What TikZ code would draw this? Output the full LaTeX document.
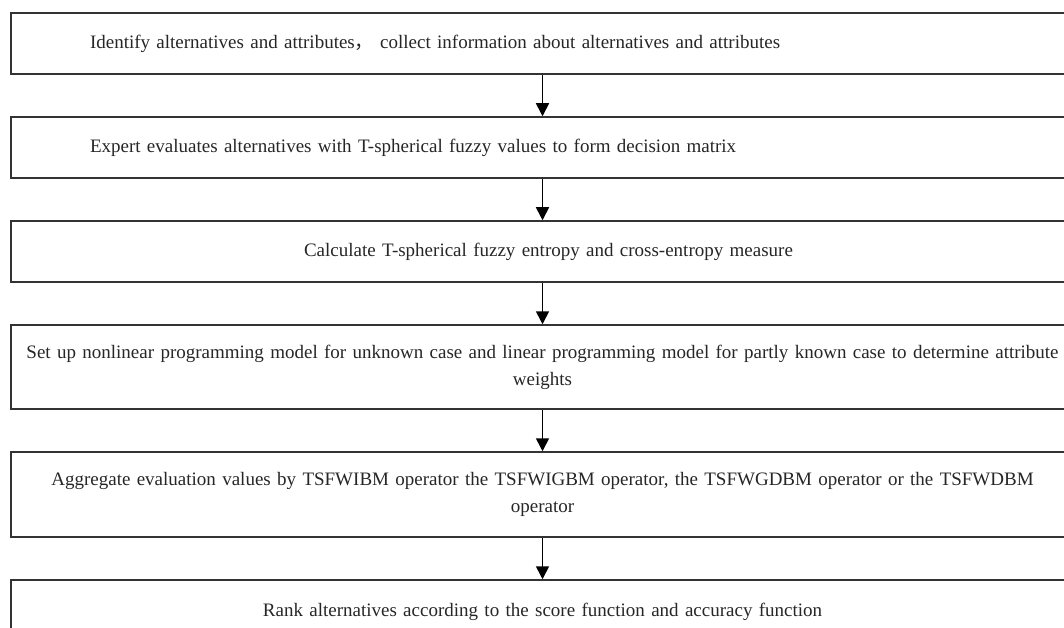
\documentclass[tikz,border=0pt]{standalone}
\usepackage{fontspec}
\setmainfont{Liberation Serif}
\newfontfamily\cjk{Noto Sans CJK SC}
\usetikzlibrary{positioning, arrows.meta}

\tikzset{
    box/.style={draw=black!80, line width=1.5pt, minimum width=1063pt, inner xsep=8pt,
        text width=1047pt, align=center, text=black!85, font=\fontsize{19pt}{27pt}\selectfont},
    flow/.style={draw=black, line width=1.6pt, -{Triangle[width=13pt, length=13pt]}}
}

\begin{document}
\begin{tikzpicture}[node distance=41.5pt]
    \useasboundingbox (0,0) rectangle (1064pt,-628pt);
    \clip (0,0) rectangle (1064pt,-628pt);

    \node[box, minimum height=61pt, inner xsep=79pt, text width=905pt, align=left]
        (step 1) at (542.5pt,-43.5pt) {Identify alternatives and attributes{\cjk ，} collect information about alternatives and attributes};
    \node[box, minimum height=61pt, inner xsep=79pt, text width=905pt, align=left, below=of step 1]
        (step 2) {Expert evaluates alternatives with T-spherical fuzzy values to form decision matrix};
    \node[box, minimum height=61pt, below=of step 2]
        (step 3) {\hspace*{12pt}Calculate T-spherical fuzzy entropy and cross-entropy measure};
    \node[box, minimum height=84pt, below=of step 3]
        (step 4) {Set up nonlinear programming model for unknown case and linear programming model for partly known case to determine attribute\\ weights};
    \node[box, minimum height=85pt, below=of step 4]
        (step 5) {Aggregate evaluation values by TSFWIBM operator the TSFWIGBM operator, the TSFWGDBM operator or the TSFWDBM\\ operator};
    \node[box, minimum height=64pt, below=of step 5]
        (step 6) {Rank alternatives according to the score function and accuracy function};

    \draw[flow] (step 1) -- (step 2);
    \draw[flow] (step 2) -- (step 3);
    \draw[flow] (step 3) -- (step 4);
    \draw[flow] (step 4) -- (step 5);
    \draw[flow] (step 5) -- (step 6);
\end{tikzpicture}
\end{document}
